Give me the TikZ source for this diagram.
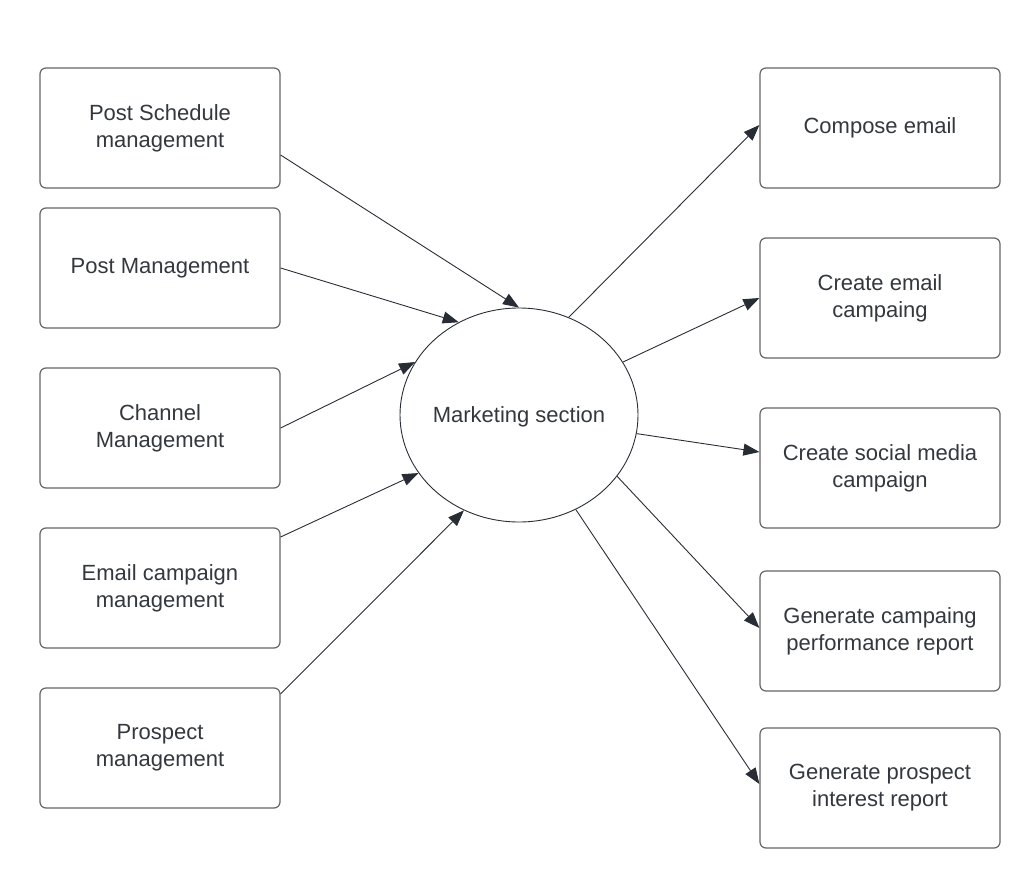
\documentclass[tikz,border=0pt]{standalone}
\usepackage{fontspec}
\setmainfont{Liberation Sans}
\usepackage{tikz}
\usetikzlibrary{arrows.meta,shapes,positioning}
\definecolor{msline}{RGB}{40,44,52}
\definecolor{msbox}{RGB}{100,100,100}
\definecolor{mstext}{RGB}{51,56,62}
\tikzstyle{task} = [draw=msbox, line width=1.2pt, rounded corners=6pt, minimum width=240pt, minimum height=120pt, align=center, text=mstext, font=\fontsize{22}{27}\selectfont]
\tikzstyle{arrow} = [line width=0.9pt, color=msline, -{Triangle[length=16pt,width=12pt]}]

\begin{document}
\begin{tikzpicture}[x=1pt, y=-1pt]
\useasboundingbox (0,0) rectangle (1035,888);
% center process
\node[draw=msline, line width=0.9pt, ellipse, inner sep=0pt, minimum width=238pt, minimum height=214pt,
  label={[text=mstext, font=\fontsize{22}{27}\selectfont, yshift=-2pt]center:Marketing section}] (ms) at (519,415) {};

% inputs
\node[task] (psm) at (160,128) {Post Schedule\\management};
\node[task] (pm) at (160,268) {Post Management};
\node[task] (cm) at (160,428) {Channel\\Management};
\node[task] (ecm) at (160,588) {Email campaign\\management};
\node[task] (prm) at (160,748) {Prospect\\management};

% outputs
\node[task] (ce) at (880,128) {Compose email};
\node[task] (cec) at (880,298) {Create email\\campaing};
\node[task] (csm) at (880,468) {Create social media\\campaign};
\node[task] (gcp) at (880,631) {Generate campaing\\performance report};
\node[task] (gpi) at (880,788) {Generate prospect\\interest report};

\draw[arrow] ([yshift=-27pt]psm.east) -- (ms.90);
\draw[arrow] (pm.east) -- (ms.123);
\draw[arrow] (cm.east) -- (ms.153);
\draw[arrow] ([yshift=51pt]ecm.east) -- (ms.210);
\draw[arrow] ([yshift=54pt]prm.east) -- (ms.240);

\draw[arrow] (ms.63) -- ([yshift=3pt]ce.west);
\draw[arrow] (ms.27) -- (cec.west);
\draw[arrow] (ms.-9) -- ([yshift=16pt]csm.west);
\draw[arrow] (ms.-32) -- ([yshift=3pt]gcp.west);
\draw[arrow] (ms.-59) -- ([yshift=4pt]gpi.west);
\end{tikzpicture}
\end{document}
